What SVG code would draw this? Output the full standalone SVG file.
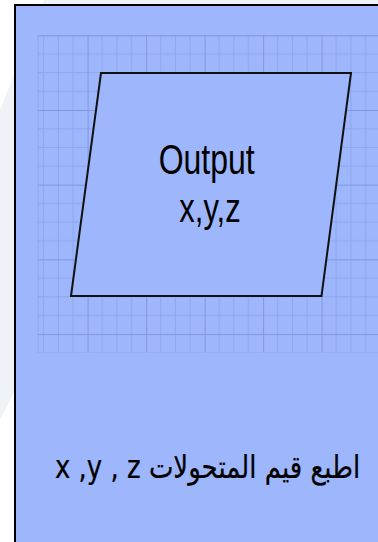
<svg xmlns="http://www.w3.org/2000/svg" width="378" height="542" viewBox="0 0 378 542">
  <style>
    .minor { stroke: #8ea7ec; stroke-width: 1; }
    .major { stroke: #8199da; stroke-width: 1; }
    .lbl { font-family: "Liberation Sans", Arial, sans-serif; fill: #000; }
    .cap { font-family: "DejaVu Sans", "Liberation Sans", sans-serif; fill: #000; stroke: #000; stroke-width: 0.2; }
  </style>
  <defs>
    <pattern id="grid" patternUnits="userSpaceOnUse" x="29.1" y="35.3" width="58.5" height="74.7">
      <line class="minor" x1="14.6" y1="0" x2="14.6" y2="74.7"/>
      <line class="minor" x1="29.25" y1="0" x2="29.25" y2="74.7"/>
      <line class="minor" x1="43.9" y1="0" x2="43.9" y2="74.7"/>
      <line class="minor" x1="0" y1="18.7" x2="58.5" y2="18.7"/>
      <line class="minor" x1="0" y1="37.35" x2="58.5" y2="37.35"/>
      <line class="minor" x1="0" y1="56" x2="58.5" y2="56"/>
      <line class="major" x1="0.5" y1="0" x2="0.5" y2="74.7"/>
      <line class="major" x1="0" y1="0.5" x2="58.5" y2="0.5"/>
    </pattern>
  </defs>
  <rect x="0" y="0" width="378" height="542" fill="#ffffff"/>
  <polygon points="0,110 44,0 378,0 378,60 60,300 0,420" fill="#eff3f7"/>
  <rect id="panel" x="15" y="5" width="380" height="545" fill="#9db6fc" stroke="#000" stroke-width="2"/>
  <rect x="37.5" y="35" width="341" height="317.5" fill="url(#grid)"/>
  <line class="minor" x1="38" y1="35" x2="38" y2="352.5"/>
  <g id="connectors"></g>
  <g id="output-node">
    <polygon points="101,73 351,73 321.5,296 71,296" fill="#9db6fc" stroke="#111" stroke-width="2" stroke-linejoin="miter"/>
    <text class="lbl" font-size="32" text-anchor="middle" transform="translate(206.7,174) scale(1,1.3)">Output</text>
    <text class="lbl" font-size="31" text-anchor="middle" transform="translate(210,221.7) scale(1,1.3)">x,y,z</text>
  </g>
  <g id="caption">
    <text class="cap" font-size="26" direction="rtl" text-anchor="middle" transform="translate(207.5,478) scale(1,1.22)">اطبع قيم المتحولات x ,y , z</text>
  </g>
</svg>
